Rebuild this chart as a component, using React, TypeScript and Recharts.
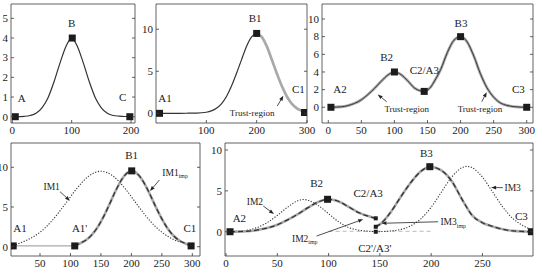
import React from 'react';
import { ComposedChart, Line, Scatter, XAxis, YAxis, ReferenceDot, ReferenceLine } from 'recharts';

const W = 538;
const H = 269;
const FONT = '"Liberation Serif", "Times New Roman", Times, serif';
const AX = '#3a3a3a';
const INK = '#222';
const GRAY = '#a9a9a9';

// ---------- Panel 1 ----------
const p1X = [5, 20, 30, 40, 50, 60, 70, 80, 90, 100, 110, 120, 130, 140, 150, 160, 170, 180, 190, 198];
const p1Y = [0, 0.02, 0.06, 0.17, 0.45, 0.95, 1.75, 2.7, 3.55, 4, 3.55, 2.7, 1.75, 0.95, 0.45, 0.17, 0.06, 0.03, 0.01, 0];
const p1MarkX = [5, 101, 198];
const p1MarkY = [0, 4, 0];
const p1XTicks = [0, 100, 200];
const p1YTicks = [0, 1, 2, 3, 4, 5];

// ---------- Panel 2 ----------
const p2X = [7, 40, 60, 80, 100, 110, 120, 130, 140, 150, 160, 170, 180, 190, 200];
const p2Y = [0, 0, 0.01, 0.03, 0.13, 0.29, 0.6, 1.13, 2.0, 3.24, 4.76, 6.39, 7.99, 9.1, 9.5];
const p2TrustX = [200, 210, 220, 230, 240, 250, 260, 270, 280, 290, 295];
const p2TrustY = [9.5, 9.1, 7.99, 6.39, 4.76, 3.24, 2.0, 1.13, 0.6, 0.28, 0.12];
const p2MarkX = [7, 200, 295];
const p2MarkY = [0, 9.5, 0.1];
const p2XTicks = [100, 200, 300];
const p2YTicks = [0, 5, 10];

// ---------- Panel 3 ----------
const p3X = [4, 20, 30, 40, 50, 60, 70, 80, 90, 100, 110, 120, 130, 140, 145, 150, 155, 160, 170, 180, 190, 200, 210, 220, 230, 240, 250, 260, 270, 280, 290, 300];
const p3Y = [0, 0.06, 0.2, 0.45, 0.85, 1.45, 2.15, 2.95, 3.65, 4, 3.7, 3.0, 2.2, 1.85, 1.8, 1.95, 2.3, 2.9, 4.3, 6.2, 7.6, 8, 7.4, 5.8, 3.8, 2.2, 1.15, 0.5, 0.22, 0.08, 0.02, 0];
const p3MarkX = [4, 100, 145, 200, 300];
const p3MarkY = [0, 4, 1.8, 8, 0];
const p3XTicks = [0, 50, 100, 150, 200, 250, 300];
const p3YTicks = [0, 2, 4, 6, 8, 10];

// ---------- Panel 4 ----------
const p4Im1X = [6, 20, 30, 50, 70, 90, 110, 130, 150, 170, 190, 210, 230, 250, 270, 285, 298];
const p4Im1Y = [0.12, 0.55, 0.88, 1.82, 3.3, 5.24, 7.29, 8.89, 9.5, 8.89, 7.29, 5.24, 3.3, 1.82, 0.88, 0.45, 0.1];
const p4FlatX = [6, 107];
const p4FlatY = [0.1, 0.1];
const p4ImpX = [107, 115, 125, 135, 145, 155, 165, 175, 185, 192, 200.5, 210, 220, 230, 240, 250, 260, 270, 280, 290, 298];
const p4ImpY = [0.1, 0.4, 0.81, 1.49, 2.51, 3.88, 5.51, 7.17, 8.56, 9.21, 9.55, 9.16, 8.14, 6.66, 5.02, 3.5, 2.24, 1.32, 0.72, 0.36, 0.1];
const p4MarkX = [6, 107, 200.5, 298];
const p4MarkY = [0.1, 0.1, 9.55, 0.1];
const p4XTicks = [50, 100, 150, 200, 250, 300];
const p4YTicks = [0, 5, 10];

// ---------- Panel 5 ----------
const p5Im2ImpX = [4, 20, 30, 40, 50, 60, 70, 80, 90, 99, 110, 120, 130, 140, 146];
const p5Im2ImpY = [0, 0.06, 0.2, 0.45, 0.85, 1.45, 2.15, 2.95, 3.65, 3.97, 3.7, 3.0, 2.3, 1.85, 1.64];
const p5Im3ImpX = [146, 150, 160, 170, 180, 190, 198.7, 210, 220, 230, 240, 250, 260, 270, 280, 290, 297.7];
const p5Im3ImpY = [0.61, 0.9, 2.3, 4.2, 6.0, 7.4, 7.96, 7.5, 6.2, 4.0, 2.0, 1.1, 0.65, 0.3, 0.1, 0.03, 0];
const p5Im2X = [4, 20, 30, 40, 50, 60, 70, 75, 80, 90, 100, 110, 120, 130, 140, 146];
const p5Im2Y = [0.05, 0.17, 0.5, 1.1, 2.0, 3.0, 3.8, 3.95, 3.85, 3.2, 2.2, 1.2, 0.5, 0.18, 0.05, 0];
const p5Im3X = [146, 160, 170, 180, 190, 200, 210, 220, 230, 235, 240, 250, 260, 270, 280, 290, 297.7];
const p5Im3Y = [0, 0.09, 0.27, 0.71, 1.58, 3.0, 4.85, 6.68, 7.84, 8, 7.84, 6.68, 4.85, 3.0, 1.58, 0.71, 0.25];
const p5BaseX = [100, 200];
const p5BaseY = [0.05, 0.05];
const p5BigMarkX = [3.9, 99, 198.7, 297.7];
const p5BigMarkY = [0, 3.97, 7.96, 0];
const p5SmallMarkX = [146, 146, 146];
const p5SmallMarkY = [1.64, 0.61, 0];
const p5XTicks = [0, 50, 100, 150, 200, 250];
const p5YTicks = [0, 5, 10];

// ---------- annotations (data coordinates) ----------
type Lbl = { t: string; x: number; y: number; s?: number; a?: string; sub?: string };
type Arr = { x1: number; y1: number; x2: number; y2: number };

const p1Labels: Lbl[] = [
  { t: 'A', x: 15.8, y: 0.93 },
  { t: 'B', x: 100, y: 4.78 },
  { t: 'C', x: 186, y: 0.99 },
];
const p2Labels: Lbl[] = [
  { t: 'A1', x: 18, y: 1.86 },
  { t: 'B1', x: 197, y: 11.3 },
  { t: 'C1', x: 283, y: 2.86 },
  { t: 'Trust-region', x: 191, y: 0, s: 9 },
];
const p2Arrows: Arr[] = [{ x1: 241, y1: 0.87, x2: 253, y2: 2.1 }];
const p3Labels: Lbl[] = [
  { t: 'A2', x: 17.7, y: 2.04 },
  { t: 'B2', x: 88.3, y: 5.73 },
  { t: 'C2/A3', x: 145.2, y: 4.22 },
  { t: 'B3', x: 200.7, y: 9.58 },
  { t: 'C3', x: 287.3, y: 2.04 },
  { t: 'Trust-region', x: 118.6, y: -0.23, s: 9 },
  { t: 'Trust-region', x: 229.4, y: -0.23, s: 9 },
];
const p3Arrows: Arr[] = [
  { x1: 88.3, y1: 0.63, x2: 74.7, y2: 1.45 },
  { x1: 232, y1: 0.63, x2: 239.5, y2: 1.7 },
];
const p4Labels: Lbl[] = [
  { t: 'A1', x: 17.2, y: 2.36 },
  { t: "A1'", x: 115, y: 2.36 },
  { t: 'B1', x: 200.5, y: 11.55 },
  { t: 'C1', x: 296, y: 2.3 },
  { t: 'IM1', x: 69.2, y: 7.56, s: 9.5 },
  { t: 'IM1', x: 250.8, y: 9.37, s: 9.5, a: 'start', sub: 'imp' },
];
const p4Arrows: Arr[] = [
  { x1: 82.8, y1: 6.93, x2: 99.2, y2: 5.79 },
  { x1: 245.9, y1: 8.4, x2: 230.6, y2: 7.0 },
];
const p5Labels: Lbl[] = [
  { t: 'A2', x: 13, y: 1.64 },
  { t: 'B2', x: 88.3, y: 5.92 },
  { t: 'C2/A3', x: 138.6, y: 4.7 },
  { t: 'B3', x: 195.4, y: 9.67 },
  { t: 'C3', x: 288, y: 1.92 },
  { t: 'IM2', x: 28.2, y: 3.67, s: 9.5 },
  { t: 'IM3', x: 271.5, y: 5.4, s: 9.5, a: 'start' },
  { t: 'IM3', x: 209, y: 1.22, s: 9.5, a: 'start', sub: 'imp' },
  { t: 'IM2', x: 64.3, y: -0.8, s: 9.5, a: 'start', sub: 'imp' },
  { t: "C2'/A3'", x: 145.1, y: -2.03 },
];
const p5Arrows: Arr[] = [
  { x1: 36.3, y1: 3.15, x2: 46.7, y2: 2.17 },
  { x1: 270, y1: 5.4, x2: 258.5, y2: 5.4 },
  { x1: 206.8, y1: 1.22, x2: 151.6, y2: 1.03 },
  { x1: 88.3, y1: -0.53, x2: 133.7, y2: 1.52 },
];

const zip = (xs: number[], ys: number[]) => xs.map((x, i) => ({ x, y: ys[i] }));

// ---------- ticks ----------
const BottomTick = (p: any) => (
  <g>
    <line x1={p.x} y1={p.y} x2={p.x} y2={p.y - 3} stroke={AX} strokeWidth={0.8} />
    <text x={p.x} y={p.y + 11} textAnchor="middle" fontSize={11} fontFamily={FONT} fill={INK}>
      {p.payload.value}
    </text>
  </g>
);
const TopTick = (p: any) => <line x1={p.x} y1={p.y} x2={p.x} y2={p.y + 3} stroke={AX} strokeWidth={0.8} />;
const LeftTick = (p: any) => (
  <g>
    <line x1={p.x} y1={p.y} x2={p.x + 3} y2={p.y} stroke={AX} strokeWidth={0.8} />
    <text x={p.x - 3} y={p.y + 3.8} textAnchor="end" fontSize={11} fontFamily={FONT} fill={INK}>
      {p.payload.value}
    </text>
  </g>
);
const RightTick = (p: any) => <line x1={p.x} y1={p.y} x2={p.x - 3} y2={p.y} stroke={AX} strokeWidth={0.8} />;

const square = (s: number) => (p: any) => (
  <rect x={p.cx - s / 2} y={p.cy - s / 2} width={s} height={s} fill="#1c1c1c" />
);

const textShape = (l: Lbl) => (p: any) => {
  const s = l.s ?? 11;
  return (
    <text x={p.cx} y={p.cy} dy={s * 0.35} textAnchor={l.a ?? 'middle'} fontSize={s} fontFamily={FONT} fill={INK}>
      {l.t}
      {l.sub ? (
        <tspan fontSize={s * 0.62} dy={s * 0.3}>
          {l.sub}
        </tspan>
      ) : null}
    </text>
  );
};

const arrowShape = (p: any) => {
  const { x1, y1, x2, y2 } = p;
  const ang = Math.atan2(y2 - y1, x2 - x1);
  const L = 5;
  const wd = 1.9;
  const bx = x2 - L * Math.cos(ang);
  const by = y2 - L * Math.sin(ang);
  const px = -Math.sin(ang) * wd;
  const py = Math.cos(ang) * wd;
  return (
    <g>
      <line x1={x1} y1={y1} x2={bx} y2={by} stroke={INK} strokeWidth={0.8} />
      <polygon points={`${x2},${y2} ${bx + px},${by + py} ${bx - px},${by - py}`} fill={INK} />
    </g>
  );
};

const labelEls = (ls: Lbl[], k: string) =>
  ls.map((l, i) => (
    <ReferenceDot key={`${k}l${i}`} x={l.x} y={l.y} r={0} ifOverflow="visible" shape={textShape(l)} />
  ));
const arrowEls = (as: Arr[], k: string) =>
  as.map((a, i) => (
    <ReferenceLine
      key={`${k}a${i}`}
      segment={[
        { x: a.x1, y: a.y1 },
        { x: a.x2, y: a.y2 },
      ]}
      ifOverflow="visible"
      shape={arrowShape}
    />
  ));

type PanelProps = {
  box: [number, number, number, number];
  xd: [number, number];
  yd: [number, number];
  xt: number[];
  yt: number[];
  children: React.ReactNode;
};

const XH = 10; // bottom axis band height
const TH = 2; // top axis band height
const LW = 10; // left axis band width
const RW = 2; // right axis band width

function Panel({ box, xd, yd, xt, yt, children }: PanelProps) {
  const [l, t, r, b] = box;
  const axisLine = { stroke: AX, strokeWidth: 0.8 };
  return (
    <div style={{ position: 'absolute', left: 0, top: 0 }}>
      <ComposedChart
        width={W}
        height={H}
        margin={{ left: l - LW, top: t - TH, right: W - r - RW, bottom: H - b - XH }}
      >
        <XAxis
          xAxisId={0}
          dataKey="x"
          type="number"
          domain={xd}
          ticks={xt}
          interval={0}
          allowDataOverflow
          height={XH}
          tickSize={0}
          tickMargin={0}
          tickLine={false}
          axisLine={axisLine}
          tick={(p: any) => <BottomTick {...p} />}
        />
        <XAxis
          xAxisId="t"
          orientation="top"
          type="number"
          domain={xd}
          ticks={xt}
          interval={0}
          allowDataOverflow
          height={TH}
          tickSize={0}
          tickMargin={0}
          tickLine={false}
          axisLine={axisLine}
          tick={(p: any) => <TopTick {...p} />}
        />
        <YAxis
          yAxisId={0}
          dataKey="y"
          type="number"
          domain={yd}
          ticks={yt}
          interval={0}
          allowDataOverflow
          width={LW}
          tickSize={0}
          tickMargin={0}
          tickLine={false}
          axisLine={axisLine}
          tick={(p: any) => <LeftTick {...p} />}
        />
        <YAxis
          yAxisId="r"
          orientation="right"
          type="number"
          domain={yd}
          ticks={yt}
          interval={0}
          allowDataOverflow
          width={RW}
          tickSize={0}
          tickMargin={0}
          tickLine={false}
          axisLine={axisLine}
          tick={(p: any) => <RightTick {...p} />}
        />
        {children}
      </ComposedChart>
    </div>
  );
}

const lineCommon = { type: 'monotone' as const, dataKey: 'y', dot: false, activeDot: false, isAnimationActive: false };

export default function App() {
  return (
    <div style={{ position: 'absolute', left: 0, top: 0, width: W, height: H, background: '#fff' }}>
      {/* Panel 1 */}
      <Panel box={[11, 4, 135, 123]} xd={[-2.2, 206.7]} yd={[-0.32, 5.73]} xt={p1XTicks} yt={p1YTicks}>
        <Line {...lineCommon} data={zip(p1X, p1Y)} stroke="#333" strokeWidth={1.2} />
        <Scatter data={zip(p1MarkX, p1MarkY)} shape={square(7)} isAnimationActive={false} />
        {labelEls(p1Labels, 'p1')}
      </Panel>

      {/* Panel 2 */}
      <Panel box={[156, 4, 307, 123]} xd={[0, 300]} yd={[-1.15, 13]} xt={p2XTicks} yt={p2YTicks}>
        <Line {...lineCommon} data={zip(p2X, p2Y)} stroke="#333" strokeWidth={1.2} />
        <Line {...lineCommon} data={zip(p2TrustX, p2TrustY)} stroke={GRAY} strokeWidth={2.7} />
        <Scatter data={zip(p2MarkX, p2MarkY)} shape={square(7)} isAnimationActive={false} />
        {labelEls(p2Labels, 'p2')}
        {arrowEls(p2Arrows, 'p2')}
      </Panel>

      {/* Panel 3 */}
      <Panel box={[322, 4, 533, 123]} xd={[-9.5, 309.5]} yd={[-1.78, 11.7]} xt={p3XTicks} yt={p3YTicks}>
        <Line {...lineCommon} data={zip(p3X, p3Y)} stroke={GRAY} strokeWidth={2.8} />
        <Line {...lineCommon} data={zip(p3X, p3Y)} stroke="#3a3a3a" strokeWidth={1} />
        <Scatter data={zip(p3MarkX, p3MarkY)} shape={square(7)} isAnimationActive={false} />
        {labelEls(p3Labels, 'p3')}
        {arrowEls(p3Arrows, 'p3')}
      </Panel>

      {/* Panel 4 */}
      <Panel box={[11, 143, 200, 256]} xd={[2.4, 312.6]} yd={[-1.17, 13.06]} xt={p4XTicks} yt={p4YTicks}>
        <Line {...lineCommon} data={zip(p4FlatX, p4FlatY)} stroke={GRAY} strokeWidth={1.2} />
        <Line {...lineCommon} data={zip(p4Im1X, p4Im1Y)} stroke="#333" strokeWidth={1.1} strokeDasharray="1.2 1.6" />
        <Line {...lineCommon} data={zip(p4ImpX, p4ImpY)} stroke={GRAY} strokeWidth={2.6} />
        <Line {...lineCommon} data={zip(p4ImpX, p4ImpY)} stroke="#333" strokeWidth={1.3} strokeDasharray="5 3" />
        <Scatter data={zip(p4MarkX, p4MarkY)} shape={square(7)} isAnimationActive={false} />
        {labelEls(p4Labels, 'p4')}
        {arrowEls(p4Arrows, 'p4')}
      </Panel>

      {/* Panel 5 */}
      <Panel box={[225, 143, 533, 256]} xd={[-1, 299.3]} yd={[-2.97, 10.86]} xt={p5XTicks} yt={p5YTicks}>
        <Line {...lineCommon} data={zip(p5BaseX, p5BaseY)} stroke="#c8c8c8" strokeWidth={1.2} strokeDasharray="4 3" />
        <Line {...lineCommon} data={zip(p5Im2X, p5Im2Y)} stroke="#333" strokeWidth={1.1} strokeDasharray="1.2 1.6" />
        <Line {...lineCommon} data={zip(p5Im3X, p5Im3Y)} stroke="#333" strokeWidth={1.1} strokeDasharray="1.2 1.6" />
        <Line {...lineCommon} data={zip(p5Im2ImpX, p5Im2ImpY)} stroke={GRAY} strokeWidth={2.6} />
        <Line {...lineCommon} data={zip(p5Im2ImpX, p5Im2ImpY)} stroke="#333" strokeWidth={1.3} strokeDasharray="5 3" />
        <Line {...lineCommon} data={zip(p5Im3ImpX, p5Im3ImpY)} stroke={GRAY} strokeWidth={2.6} />
        <Line {...lineCommon} data={zip(p5Im3ImpX, p5Im3ImpY)} stroke="#333" strokeWidth={1.3} strokeDasharray="5 3" />
        <Scatter data={zip(p5BigMarkX, p5BigMarkY)} shape={square(7)} isAnimationActive={false} />
        <Scatter data={zip(p5SmallMarkX, p5SmallMarkY)} shape={square(4)} isAnimationActive={false} />
        {labelEls(p5Labels, 'p5')}
        {arrowEls(p5Arrows, 'p5')}
      </Panel>
    </div>
  );
}
